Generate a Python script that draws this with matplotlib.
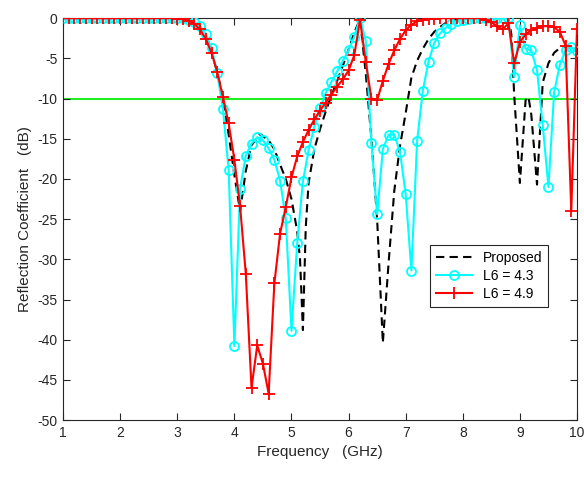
import numpy as np
import matplotlib
matplotlib.use("Agg")
import matplotlib.pyplot as plt

plt.rcParams["font.family"] = ["Liberation Sans", "DejaVu Sans"]
plt.rcParams["axes.unicode_minus"] = False

# Proposed design (black dashed)
f_prop = [1.0, 2.8, 3.0, 3.2, 3.4, 3.5, 3.6, 3.7, 3.8, 3.9, 4.0, 4.1, 4.2, 4.3,
          4.45, 4.6, 4.7, 4.8, 4.9, 5.0, 5.1, 5.15, 5.2, 5.25, 5.3, 5.4, 5.5,
          5.6, 5.7, 5.8, 5.9, 6.0, 6.1, 6.2, 6.3, 6.4, 6.5, 6.6, 6.7, 6.8,
          6.9, 7.0, 7.1, 7.2, 7.3, 7.4, 7.5, 7.6, 7.7, 7.8, 7.9, 8.0, 8.8,
          8.85, 8.9, 9.0, 9.1, 9.15, 9.2, 9.3, 9.4, 9.5, 9.6, 9.7, 9.8, 9.9,
          10.0]
s_prop = [0.0, 0.0, -0.1, -0.4, -1.5, -2.6, -4.3, -6.7, -9.9, -14.5, -19.5,
          -24.0, -19.0, -15.8, -14.4, -15.2, -16.3, -18.2, -20.0, -22.5,
          -26.5, -30.0, -38.8, -26.0, -20.5, -16.3, -13.8, -11.6, -9.6,
          -7.8, -5.9, -3.9, -1.8, -0.1, -6.8, -15.0, -25.0, -40.4, -30.5,
          -21.5, -15.9, -11.8, -7.4, -5.3, -3.8, -2.6, -1.7, -1.1, -0.6,
          -0.3, -0.1, 0.0, 0.0, -2.0, -9.5, -20.5, -10.2, -9.8, -12.0,
          -20.7, -8.0, -5.6, -4.3, -3.7, -3.5, -3.5, -3.8]

# sweep points of the two parametric cases
freq = np.round(np.arange(1.0, 10.01, 0.1), 1)

s_l43 = [0.0] * 22 + [
    -0.2, -0.5, -1.0, -2.0, -3.7, -6.8, -11.3, -18.9,          # 3.2 - 3.9
    -40.8, -21.2, -17.1, -15.6, -14.8, -15.2, -16.2, -17.6,    # 4.0 - 4.7
    -20.2, -24.9, -38.9, -28.0, -20.3, -16.4, -13.5, -11.2,    # 4.8 - 5.5
    -9.3, -7.9, -6.6, -5.3, -4.0, -2.3, 0.0, -2.8,             # 5.6 - 6.3
    -15.5, -24.4, -16.3, -14.5, -14.5, -16.6, -21.9, -31.4,    # 6.4 - 7.1
    -15.3, -9.0, -5.4, -3.1, -1.9, -1.2, -0.7, -0.4,           # 7.2 - 7.9
    -0.2, -0.1, 0.0, 0.0, 0.0, 0.0, 0.0, 0.0, 0.0,             # 8.0 - 8.8
    -7.3, -0.9, -3.8, -4.0, -6.5, -13.3, -21.0, -9.2,          # 8.9 - 9.6
    -5.8, -4.0, -3.6, -4.1]                                    # 9.7 - 10.0

s_l49 = [0.0] * 20 + [
    -0.05, -0.1, -0.3, -0.7, -1.4, -2.6, -4.3, -6.7, -9.8, -13.1,   # 3.0 - 3.9
    -17.6, -23.4, -31.8, -46.0, -40.7, -43.0, -46.7, -33.0,         # 4.0 - 4.7
    -26.8, -23.5, -19.8, -17.2, -15.4, -13.9, -12.6, -11.5,         # 4.8 - 5.5
    -10.5, -9.5, -8.5, -7.6, -6.5, -4.6, -0.2, -5.4,                # 5.6 - 6.3
    -10.0, -10.2, -7.8, -5.7, -4.0, -2.6, -1.5, -0.8,               # 6.4 - 7.1
    -0.4, -0.2, -0.1, -0.05, 0.0, 0.0, 0.0, 0.0,                    # 7.2 - 7.9
    0.0, 0.0, 0.0, 0.0, -0.2, -0.5, -1.0, -1.4, -0.6,               # 8.0 - 8.8
    -5.6, -3.0, -2.0, -1.5, -1.2, -1.0, -1.0, -1.1,                 # 8.9 - 9.6
    -1.7, -3.4, -24.0, -1.3]                                        # 9.7 - 10.0

ref_level = -10

fig = plt.figure(figsize=(5.84, 4.79), dpi=100)
ax = fig.add_axes([0.108, 0.123, 0.88, 0.839])

ax.axhline(ref_level, color="#22ee22", lw=1.5, zorder=1)
ax.plot(f_prop, s_prop, color="black", lw=1.5, dashes=(4, 2.5), label="Proposed", zorder=2)
ax.plot(freq, s_l43, color="cyan", lw=1.5, marker="o", ms=6.5, mfc="none",
        mew=1.3, label="L6 = 4.3", zorder=3)
ax.plot(freq, s_l49, color="red", lw=1.5, marker="+", ms=8, mew=1.3,
        label="L6 = 4.9", zorder=4)

ax.set_xlim(1, 10)
ax.set_ylim(-50, 0)
ax.set_xticks(range(1, 11))
ax.set_yticks(range(-50, 1, 5))
ax.tick_params(direction="in", top=True, right=True, length=5, width=0.8,
               labelsize=10, colors="#262626", pad=4)
for sp in ax.spines.values():
    sp.set_color("#262626")
    sp.set_linewidth(0.8)

ax.set_xlabel("Frequency   (GHz)", fontsize=11, color="#262626")
ax.set_ylabel("Reflection Coefficient   (dB)", fontsize=11, color="#262626")

leg = ax.legend(loc="upper right", bbox_to_anchor=(0.957, 0.452), fontsize=10,
                fancybox=False, framealpha=1, edgecolor="#262626",
                borderpad=0.4, handlelength=2.6, labelspacing=0.3)
leg.get_frame().set_linewidth(0.8)

fig.savefig("out.png", dpi=100)
